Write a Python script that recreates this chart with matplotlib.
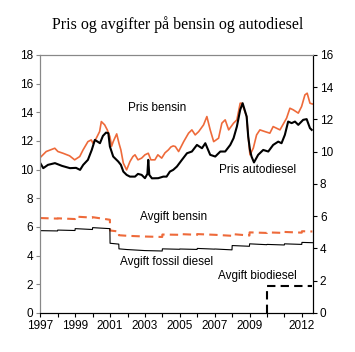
import matplotlib
matplotlib.use("Agg")
import matplotlib.pyplot as plt
import numpy as np

plt.rcParams['font.family'] = ['Liberation Sans', 'DejaVu Sans']

# Pris bensin (kr/l)
bensin_year = [1997.02, 1997.34, 1997.83, 1998.01, 1998.30, 1998.68, 1998.97, 1999.26, 1999.45,
               1999.73, 1999.92, 2000.02, 2000.21, 2000.40, 2000.50, 2000.69, 2000.84, 2000.99,
               2001.09, 2001.18, 2001.38, 2001.51, 2001.62, 2001.76, 2001.95, 2002.14, 2002.31,
               2002.43, 2002.60, 2002.81, 2003.00, 2003.19, 2003.34, 2003.57, 2003.74, 2003.96,
               2004.15, 2004.34, 2004.49, 2004.62, 2004.74, 2004.93, 2005.22, 2005.50, 2005.69,
               2005.88, 2006.08, 2006.36, 2006.55, 2006.74, 2006.94, 2007.22, 2007.41, 2007.60,
               2007.80, 2008.08, 2008.27, 2008.46, 2008.56, 2008.83, 2008.92, 2009.02, 2009.21,
               2009.40, 2009.59, 2009.88, 2010.16, 2010.35, 2010.74, 2011.12, 2011.31, 2011.50,
               2011.79, 2011.98, 2012.17, 2012.30, 2012.46, 2012.59]
bensin_pris = [10.87, 11.26, 11.49, 11.26, 11.14, 10.96, 10.68, 10.91, 11.37,
               11.95, 12.07, 11.84, 12.19, 12.65, 13.35, 13.12, 12.77, 12.30,
               11.63, 11.95, 12.49, 11.84, 11.37, 10.45, 9.98, 10.56, 10.91,
               11.03, 10.68, 10.80, 11.03, 11.14, 10.68, 10.68, 11.03, 10.80,
               11.17, 11.37, 11.58, 11.65, 11.61, 11.26, 11.95, 12.54, 12.77,
               12.42, 12.65, 13.12, 13.70, 12.77, 11.95, 12.19, 13.24, 13.47,
               12.77, 13.24, 13.47, 14.63, 14.63, 13.70, 12.30, 11.03, 11.49,
               12.42, 12.77, 12.65, 12.54, 13.00, 12.77, 13.59, 14.28, 14.17,
               13.94, 14.40, 15.21, 15.33, 14.63, 14.58]

# Pris autodiesel (kr/l)
diesel_year = [1997.00, 1997.17, 1997.44, 1997.84, 1998.24, 1998.70, 1999.05, 1999.28, 1999.46,
               1999.73, 1999.95, 2000.13, 2000.31, 2000.42, 2000.59, 2000.77, 2000.90, 2000.99,
               2001.18, 2001.47, 2001.62, 2001.76, 2001.95, 2002.14, 2002.43, 2002.60, 2002.81,
               2003.00, 2003.14, 2003.19, 2003.25, 2003.40, 2003.76, 2004.05, 2004.24, 2004.43,
               2004.62, 2004.83, 2005.12, 2005.41, 2005.69, 2005.98, 2006.27, 2006.46, 2006.74,
               2007.03, 2007.32, 2007.60, 2007.89, 2008.08, 2008.27, 2008.46, 2008.60, 2008.83,
               2008.92, 2009.02, 2009.11, 2009.25, 2009.49, 2009.78, 2010.07, 2010.35, 2010.64,
               2010.83, 2011.02, 2011.21, 2011.41, 2011.60, 2011.79, 2012.07, 2012.27, 2012.46,
               2012.56]
diesel_pris = [10.45, 10.10, 10.33, 10.45, 10.26, 10.10, 10.12, 9.98, 10.33,
               10.68, 11.37, 12.07, 11.93, 11.84, 12.35, 12.58, 12.54, 11.61,
               10.91, 10.56, 10.33, 9.86, 9.63, 9.51, 9.51, 9.70, 9.63,
               9.40, 9.70, 10.68, 9.63, 9.39, 9.40, 9.51, 9.51, 9.86,
               9.98, 10.21, 10.68, 11.14, 11.26, 11.72, 11.49, 11.84, 11.03,
               10.91, 11.26, 11.26, 11.72, 12.19, 13.00, 14.17, 14.63, 13.70,
               12.30, 11.37, 10.91, 10.50, 11.03, 11.37, 11.26, 11.72, 11.95,
               11.84, 12.42, 13.35, 13.24, 13.35, 13.12, 13.47, 13.52, 12.89,
               12.77]

# Avgift bensin og fossil diesel (same dates)
avg_year = [1997.0, 1997.99, 1998.0, 1998.99, 1999.0, 1999.99, 2000.0, 2000.99, 2001.0,
            2001.5, 2001.51, 2001.99, 2002.0, 2002.99, 2003.0, 2003.99, 2004.0, 2004.99,
            2005.0, 2005.99, 2006.0, 2006.99, 2007.0, 2007.99, 2008.0, 2008.99, 2009.0,
            2009.99, 2010.0, 2010.99, 2011.0, 2011.99, 2012.0, 2012.6]
avg_bensin = [6.62, 6.58, 6.60, 6.55, 6.72, 6.65, 6.68, 6.50, 5.75,
              5.68, 5.42, 5.38, 5.38, 5.33, 5.33, 5.30, 5.47, 5.45,
              5.50, 5.45, 5.50, 5.45, 5.45, 5.38, 5.50, 5.40, 5.62,
              5.58, 5.62, 5.58, 5.65, 5.60, 5.70, 5.68]
avg_diesel = [5.74, 5.72, 5.78, 5.75, 5.88, 5.82, 5.95, 5.88, 4.86,
              4.80, 4.47, 4.42, 4.42, 4.35, 4.35, 4.32, 4.47, 4.44,
              4.46, 4.43, 4.50, 4.45, 4.46, 4.40, 4.70, 4.65, 4.82,
              4.76, 4.78, 4.74, 4.82, 4.78, 4.92, 4.90]

# Avgift biodiesel
bio_year = [2010.0, 2010.0, 2012.6]
bio = [0.0, 1.88, 1.88]

labels = ['Pris bensin', 'Pris autodiesel', 'Avgift bensin',
          'Avgift fossil diesel', 'Avgift biodiesel']

orange = '#EE6A3A'

fig = plt.figure(figsize=(3.55, 3.52), dpi=100)
ax = fig.add_axes([0.1135, 0.111, 0.768, 0.733])

ax.plot(avg_year, avg_bensin, color=orange, lw=1.5, dashes=(4, 2.5))
ax.plot(avg_year, avg_diesel, color='black', lw=0.8)
ax.plot(bio_year, bio, color='black', lw=1.5, dashes=(4, 2.5))
ax.plot(bensin_year, bensin_pris, color=orange, lw=1.2)
ax.plot(diesel_year, diesel_pris, color='black', lw=1.5)

# label positions
lx = [2003.69, 2009.48, 2004.66, 2004.23, 2009.42]
ly = [14.3, 9.98, 6.72, 3.56, 2.58]
for t, x, y in zip(labels, lx, ly):
    ax.text(x, y, t, fontsize=8.5, ha='center', va='center')

ax.set_xlim(1997.0, 2012.63)
ax.set_ylim(0, 18)
ax.set_yticks(np.arange(0, 19, 2))
years = np.arange(1997, 2013)
ax.set_xticks(years)
shown = [1997, 1999, 2001, 2003, 2005, 2007, 2009, 2012]
ax.set_xticklabels([str(y) if y in shown else '' for y in years])

ax2 = ax.twinx()
ax2.set_ylim(0, 16)
ax2.set_yticks(np.arange(0, 17, 2))

for a in (ax, ax2):
    a.tick_params(direction='out', length=3, width=0.8, labelsize=8.5, pad=2)
    a.spines['top'].set_color('#888888')
    a.spines['left'].set_color('#888888')
    a.spines['right'].set_color('black')
    a.spines['bottom'].set_color('black')
ax.tick_params(axis='y', colors='#888888', labelcolor='black')

fig.suptitle('Pris og avgifter på bensin og autodiesel', family='Liberation Serif',
             fontsize=11.5, y=0.955)

fig.savefig('out.png', dpi=100)
